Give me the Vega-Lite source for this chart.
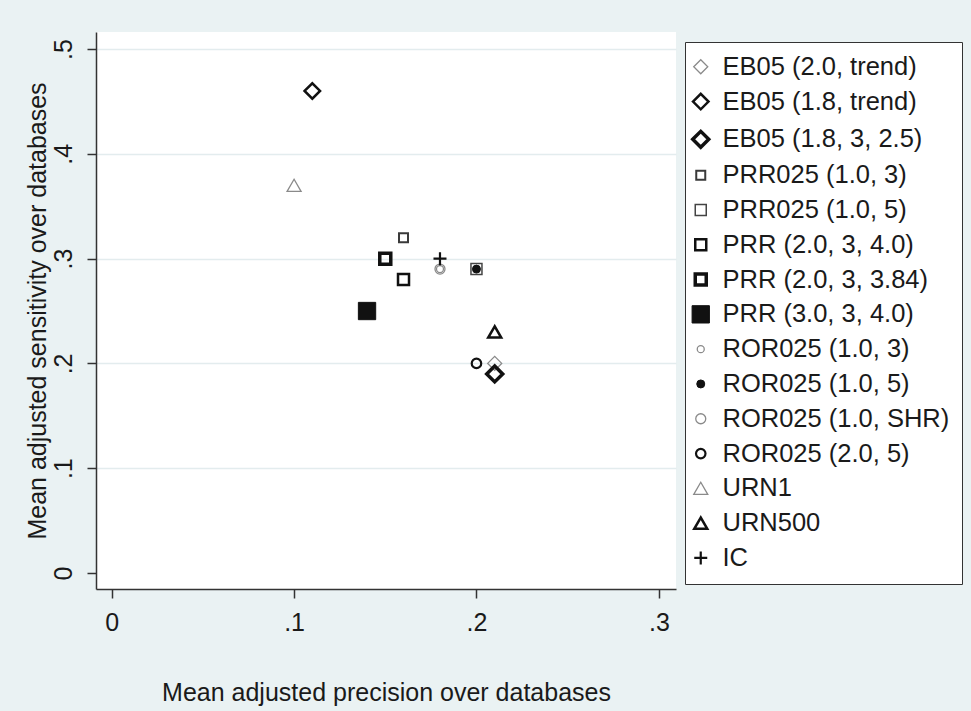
{
  "$schema": "https://vega.github.io/schema/vega-lite/v6.json",
  "autosize": "none",
  "width": 580,
  "height": 557,
  "padding": {"left": 96, "top": 32, "right": 295, "bottom": 122},
  "background": "#eaf2f3",
  "config": {
    "view": {"fill": "white", "stroke": null},
    "font": "Liberation Sans",
    "axis": {
      "labelFont": "Liberation Sans",
      "titleFont": "Liberation Sans",
      "labelFontSize": 25,
      "titleFontSize": 25,
      "titleFontWeight": "normal",
      "labelColor": "#1a1a1a",
      "titleColor": "#1a1a1a",
      "domainColor": "#333333",
      "domainWidth": 1.5,
      "tickColor": "#333333",
      "tickWidth": 1.5,
      "tickSize": 9,
      "labelPadding": 8
    },
    "legend": {
      "labelFont": "Liberation Sans",
      "labelFontSize": 25.5,
      "labelColor": "#1a1a1a",
      "labelLimit": 400
    }
  },
  "data": {
    "values": [
      {"method": "EB05 (2.0, trend)", "precision": 0.21, "sensitivity": 0.20},
      {"method": "EB05 (1.8, trend)", "precision": 0.11, "sensitivity": 0.46},
      {"method": "EB05 (1.8, 3, 2.5)", "precision": 0.21, "sensitivity": 0.19},
      {"method": "PRR025 (1.0, 3)", "precision": 0.16, "sensitivity": 0.32},
      {"method": "PRR025 (1.0, 5)", "precision": 0.20, "sensitivity": 0.29},
      {"method": "PRR (2.0, 3, 4.0)", "precision": 0.16, "sensitivity": 0.28},
      {"method": "PRR (2.0, 3, 3.84)", "precision": 0.15, "sensitivity": 0.30},
      {"method": "PRR (3.0, 3, 4.0)", "precision": 0.14, "sensitivity": 0.25},
      {"method": "ROR025 (1.0, 3)", "precision": 0.18, "sensitivity": 0.29},
      {"method": "ROR025 (1.0, 5)", "precision": 0.20, "sensitivity": 0.29},
      {"method": "ROR025 (1.0, SHR)", "precision": 0.18, "sensitivity": 0.29},
      {"method": "ROR025 (2.0, 5)", "precision": 0.20, "sensitivity": 0.20},
      {"method": "URN1", "precision": 0.10, "sensitivity": 0.37},
      {"method": "URN500", "precision": 0.21, "sensitivity": 0.23},
      {"method": "IC", "precision": 0.18, "sensitivity": 0.30}
    ]
  },
  "mark": {"type": "point", "opacity": 1},
  "encoding": {
    "x": {
      "field": "precision",
      "type": "quantitative",
      "scale": {"domain": [-0.0086, 0.3094], "nice": false, "zero": false},
      "axis": {
        "title": "Mean adjusted precision over databases",
        "values": [0, 0.1, 0.2, 0.3],
        "labelExpr": "datum.value == 0 ? '0' : substring(format(datum.value, '.1f'), 1)",
        "grid": false,
        "labelPadding": 12,
        "titlePadding": 45
      }
    },
    "y": {
      "field": "sensitivity",
      "type": "quantitative",
      "scale": {"domain": [-0.0153, 0.5163], "nice": false, "zero": false},
      "axis": {
        "title": "Mean adjusted sensitivity over databases",
        "values": [0, 0.1, 0.2, 0.3, 0.4, 0.5],
        "labelExpr": "datum.value == 0 ? '0' : substring(format(datum.value, '.1f'), 1)",
        "labelAngle": 270,
        "labelPadding": 11,
        "grid": true,
        "gridColor": "#e3ecee",
        "gridWidth": 1.5,
        "gridOpacity": {"condition": {"test": "datum.value === 0", "value": 0}, "value": 1},
        "titlePadding": 1
      }
    },
    "shape": {
      "field": "method",
      "type": "nominal",
      "scale": {
        "domain": ["EB05 (2.0, trend)", "EB05 (1.8, trend)", "EB05 (1.8, 3, 2.5)", "PRR025 (1.0, 3)", "PRR025 (1.0, 5)", "PRR (2.0, 3, 4.0)", "PRR (2.0, 3, 3.84)", "PRR (3.0, 3, 4.0)", "ROR025 (1.0, 3)", "ROR025 (1.0, 5)", "ROR025 (1.0, SHR)", "ROR025 (2.0, 5)", "URN1", "URN500", "IC"],
        "range": ["diamond", "diamond", "diamond", "square", "square", "square", "square", "square", "circle", "circle", "circle", "circle", "triangle-up", "triangle-up", "M-1,0H1M0,-1V1"]
      },
      "legend": {
        "title": null,
        "orient": "none",
        "legendX": 589,
        "legendY": 10,
        "strokeColor": "#333333",
        "fillColor": "white",
        "padding": 12,
        "rowPadding": 7.8,
        "labelOffset": 9,
        "symbolOffset": -9
      }
    },
    "size": {
      "field": "method",
      "type": "nominal",
      "scale": {
        "type": "ordinal",
        "domain": ["EB05 (2.0, trend)", "EB05 (1.8, trend)", "EB05 (1.8, 3, 2.5)", "PRR025 (1.0, 3)", "PRR025 (1.0, 5)", "PRR (2.0, 3, 4.0)", "PRR (2.0, 3, 3.84)", "PRR (3.0, 3, 4.0)", "ROR025 (1.0, 3)", "ROR025 (1.0, 5)", "ROR025 (1.0, SHR)", "ROR025 (2.0, 5)", "URN1", "URN500", "IC"],
        "range": [196, 240, 256, 81, 121, 121, 121, 300, 49, 64, 100, 90, 196, 169, 169]
      }
    },
    "strokeWidth": {
      "field": "method",
      "type": "nominal",
      "scale": {
        "type": "ordinal",
        "domain": ["EB05 (2.0, trend)", "EB05 (1.8, trend)", "EB05 (1.8, 3, 2.5)", "PRR025 (1.0, 3)", "PRR025 (1.0, 5)", "PRR (2.0, 3, 4.0)", "PRR (2.0, 3, 3.84)", "PRR (3.0, 3, 4.0)", "ROR025 (1.0, 3)", "ROR025 (1.0, 5)", "ROR025 (1.0, SHR)", "ROR025 (2.0, 5)", "URN1", "URN500", "IC"],
        "range": [1.3, 2.5, 3.5, 2, 1.5, 2.5, 3.5, 1, 1.3, 1, 1.3, 2.2, 1.3, 2.5, 2.2]
      }
    },
    "stroke": {
      "field": "method",
      "type": "nominal",
      "scale": {
        "domain": ["EB05 (2.0, trend)", "EB05 (1.8, trend)", "EB05 (1.8, 3, 2.5)", "PRR025 (1.0, 3)", "PRR025 (1.0, 5)", "PRR (2.0, 3, 4.0)", "PRR (2.0, 3, 3.84)", "PRR (3.0, 3, 4.0)", "ROR025 (1.0, 3)", "ROR025 (1.0, 5)", "ROR025 (1.0, SHR)", "ROR025 (2.0, 5)", "URN1", "URN500", "IC"],
        "range": ["#8a8a8a", "#111111", "#111111", "#3a3a3a", "#444444", "#111111", "#111111", "#111111", "#8a8a8a", "#111111", "#8a8a8a", "#111111", "#8a8a8a", "#111111", "#111111"]
      }
    },
    "fill": {
      "field": "method",
      "type": "nominal",
      "scale": {
        "domain": ["EB05 (2.0, trend)", "EB05 (1.8, trend)", "EB05 (1.8, 3, 2.5)", "PRR025 (1.0, 3)", "PRR025 (1.0, 5)", "PRR (2.0, 3, 4.0)", "PRR (2.0, 3, 3.84)", "PRR (3.0, 3, 4.0)", "ROR025 (1.0, 3)", "ROR025 (1.0, 5)", "ROR025 (1.0, SHR)", "ROR025 (2.0, 5)", "URN1", "URN500", "IC"],
        "range": ["transparent", "transparent", "transparent", "transparent", "transparent", "transparent", "transparent", "#111111", "transparent", "#111111", "transparent", "transparent", "transparent", "transparent", "transparent"]
      }
    }
  }
}
